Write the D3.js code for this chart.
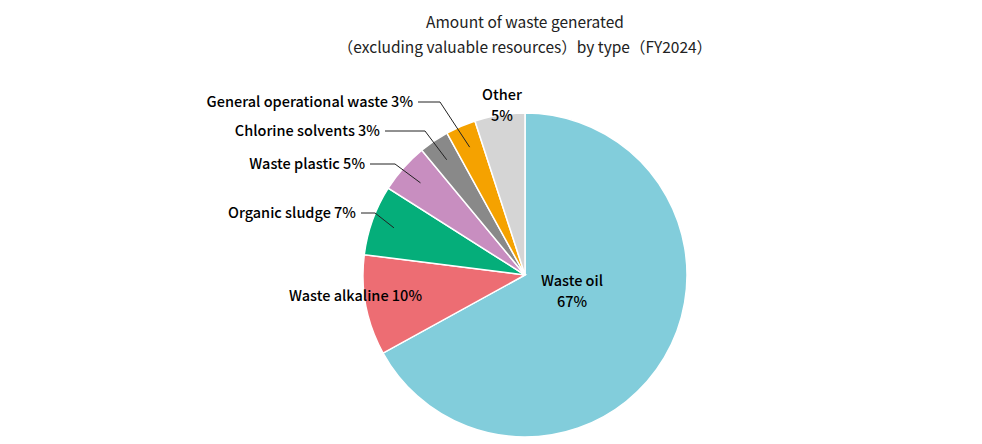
<!DOCTYPE html>
<html><head><meta charset="utf-8">
<script src="https://cdn.jsdelivr.net/npm/d3@7/dist/d3.min.js"></script>
<style>body{margin:0;background:#fff}text{font-family:"Noto Sans CJK JP","Noto Sans",sans-serif}</style>
</head><body><svg id="c" width="982" height="444"></svg>
<script>
const categories=["Waste oil","Waste alkaline","Organic sludge","Waste plastic","Chlorine solvents","General operational waste","Other"];
const values=[67,10,7,5,3,3,5];
const colors=["#82CDDB","#ED6D73","#05AE7A","#C88EC0","#898989","#F5A200","#D5D5D5"];
const svg=d3.select("#c");
const cx=525,cy=275,R=162;
svg.append("text").attr("x",cx).attr("y",28).attr("text-anchor","middle").attr("font-size",15.5).attr("fill","#222").text("Amount of waste generated");
svg.append("text").attr("x",cx).attr("y",53).attr("text-anchor","middle").attr("font-size",15.5).attr("fill","#222").text("（excluding valuable resources）by type（FY2024）");
const data=categories.map((c,i)=>({c,v:values[i],col:colors[i]}));
const pie=d3.pie().value(d=>d.v).sort(null);
const arcs=pie(data);
const arc=d3.arc().innerRadius(0).outerRadius(R);
const g=svg.append("g").attr("transform",`translate(${cx},${cy})`);
g.selectAll("path").data(arcs).join("path").attr("d",arc).attr("fill",d=>d.data.col).attr("stroke","#fff").attr("stroke-width",1.5);
const fs=14.5;
// Waste oil inside
g.append("text").attr("x",47).attr("y",11).attr("text-anchor","middle").attr("font-size",fs).attr("font-weight",500).text("Waste oil");
g.append("text").attr("x",47).attr("y",32).attr("text-anchor","middle").attr("font-size",fs).attr("font-weight",500).text(values[0]+"%");
// Other label
g.append("text").attr("x",-23).attr("y",-175).attr("text-anchor","middle").attr("font-size",fs).attr("font-weight",500).text("Other");
g.append("text").attr("x",-23).attr("y",-154).attr("text-anchor","middle").attr("font-size",fs).attr("font-weight",500).text(values[6]+"%");
// Waste alkaline
g.append("text").attr("x",-103).attr("y",26).attr("text-anchor","end").attr("font-size",fs).attr("font-weight",500).text(categories[1]+" "+values[1]+"%");
// leader labels: [index, textY, textEndX, elbowX]
const leaders=[[2,-62,-169,-150],[3,-111,-160,-130],[4,-144,-145,-100],[5,-173,-112,-85]];
const inner=d3.arc().innerRadius(R*0.86).outerRadius(R*0.86);
leaders.forEach(([i,ty,tx,ex])=>{
  const a=arcs[i];const [px,py]=inner.centroid(a);
  g.append("text").attr("x",tx).attr("y",ty+5).attr("text-anchor","end").attr("font-size",fs).attr("font-weight",500).text(categories[i]+" "+values[i]+"%");
  g.append("polyline").attr("points",`${tx+5},${ty} ${ex},${ty} ${px},${py}`).attr("fill","none").attr("stroke","#222").attr("stroke-width",1);
});
</script></body></html>
